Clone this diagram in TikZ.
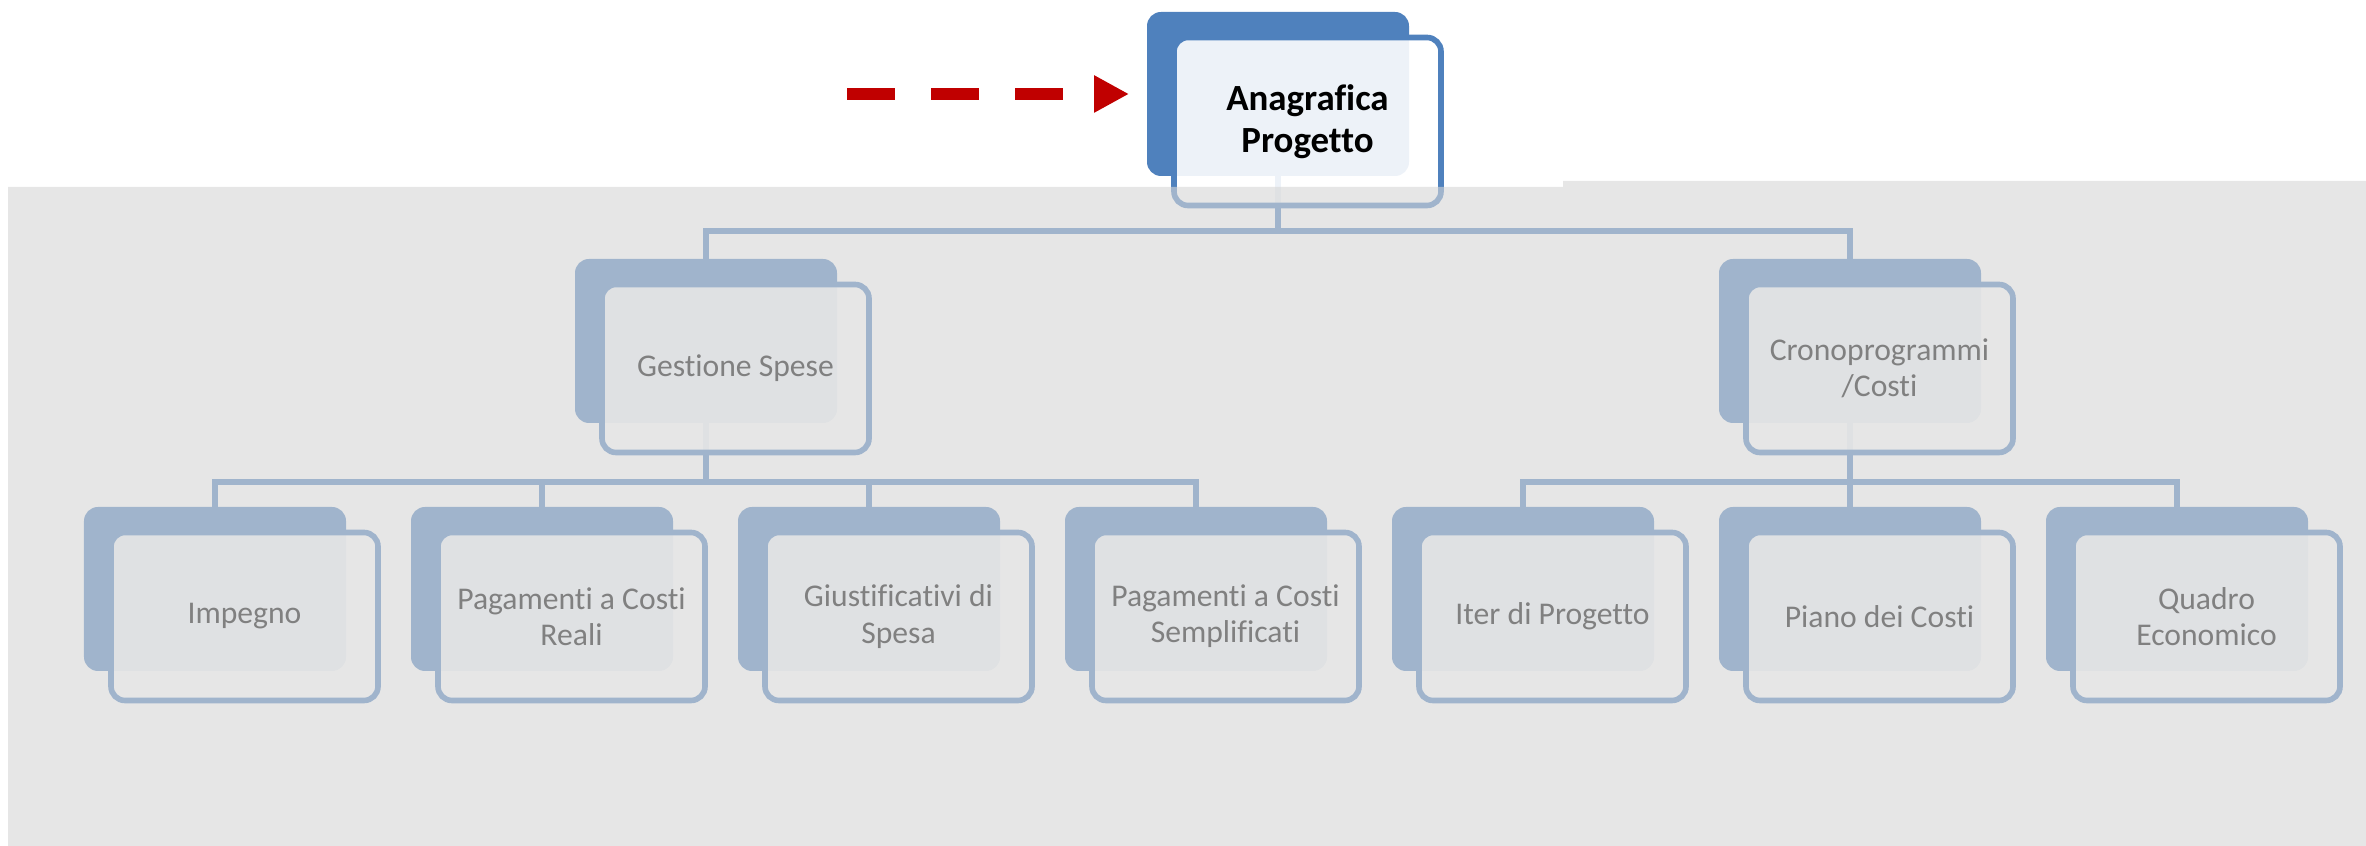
\documentclass[tikz,border=0pt]{standalone}
\usepackage{fontspec}
\setmainfont{Carlito}[Ligatures=NoCommon]
\usetikzlibrary{positioning,arrows.meta,calc}
\definecolor{accentblue}{RGB}{79,129,189}
\definecolor{darkred}{RGB}{192,0,0}
\definecolor{maskgrey}{RGB}{214,214,214}
\pgfdeclarelayer{bg}
\pgfsetlayers{bg,main}

\begin{document}
\begin{tikzpicture}[
    every node/.style={font=\fontsize{9}{10.3}\selectfont},
    back/.style={rectangle, rounded corners=0.14cm, fill=accentblue, minimum width=2.62cm, minimum height=1.64cm, inner sep=0pt, outer sep=0pt},
    front/.style={rectangle, rounded corners=0.14cm, draw=accentblue, line width=1.6pt, fill=white, fill opacity=0.9, text opacity=1, text=black, minimum width=2.67cm, minimum height=1.68cm, inner sep=0pt, align=center},
    conn/.style={draw=accentblue, line width=1.6pt},
    pointer/.style={draw=darkred, line width=0.12cm, dash pattern=on 0.48cm off 0.36cm, -{Triangle[length=0.35cm, width=0.35cm]}, shorten >=0.18cm},
    greyout/.style={fill=maskgrey, fill opacity=0.6}
]
    \useasboundingbox (0,0) rectangle (23.66,8.46);

    % Top
    \node[back] (anag) at (12.78,7.52) {};
    \node[front, font=\fontsize{10.5}{12}\selectfont\bfseries] (anag-f) at ([shift={(0.295,-0.275)}]anag.center) {Anagrafica\\Progetto};

    % Level 1
    \node[back, below=0.83cm of anag, xshift=-5.72cm] (gest) {};
    \node[front] (gest-f) at ([shift={(0.295,-0.275)}]gest.center) {Gestione Spese};
    \node[back, below=0.83cm of anag, xshift=5.72cm] (crono) {};
    \node[front] (crono-f) at ([shift={(0.295,-0.275)}]crono.center) {Cronoprogrammi\\/Costi};

    % Level 2
    \node[back, below=0.84cm of gest, xshift=-4.91cm] (imp) {};
    \node[back, right=0.65cm of imp] (pagreali) {};
    \node[back, right=0.65cm of pagreali] (giust) {};
    \node[back, right=0.65cm of giust] (pagsempl) {};
    \node[back, right=0.65cm of pagsempl] (iter) {};
    \node[back, right=0.65cm of iter] (piano) {};
    \node[back, right=0.65cm of piano] (quadro) {};

    \node[front] (imp-f) at ([shift={(0.295,-0.275)}]imp.center) {Impegno};
    \node[front] (pagreali-f) at ([shift={(0.295,-0.275)}]pagreali.center) {Pagamenti a Costi\\Reali};
    \node[front] (giust-f) at ([shift={(0.295,-0.275)}]giust.center) {Giustificativi di\\Spesa};
    \node[front] (pagsempl-f) at ([shift={(0.295,-0.275)}]pagsempl.center) {Pagamenti a Costi\\Semplificati};
    \node[front] (iter-f) at ([shift={(0.295,-0.275)}]iter.center) {Iter di Progetto};
    \node[front] (piano-f) at ([shift={(0.295,-0.275)}]piano.center) {Piano dei Costi};
    \node[front] (quadro-f) at ([shift={(0.295,-0.275)}]quadro.center) {Quadro\\Economico};

    % Edges
    \begin{pgfonlayer}{bg}
    \draw[conn] (anag.south) -- ++(0,-0.55) -| (gest.north);
    \draw[conn] (anag.south) -- ++(0,-0.55) -| (crono.north);

    \draw[conn] (gest.south) -- ++(0,-0.59) -| (imp.north);
    \draw[conn] (gest.south) -- ++(0,-0.59) -| (pagreali.north);
    \draw[conn] (gest.south) -- ++(0,-0.59) -| (giust.north);
    \draw[conn] (gest.south) -- ++(0,-0.59) -| (pagsempl.north);

    \draw[conn] (crono.south) -- ++(0,-0.59) -| (iter.north);
    \draw[conn] (crono.south) -- ++(0,-0.59) -| (piano.north);
    \draw[conn] (crono.south) -- ++(0,-0.59) -| (quadro.north);
    \end{pgfonlayer}

    % Pointer
    \coordinate[left=3cm of anag.west] (start);
    \draw[pointer] (start) -- (anag.west);

    % Grey mask
    \fill[greyout] (0.08,6.59) -- (15.63,6.59) -- (15.63,6.65) -- (23.66,6.65) -- (23.66,0) -- (0.08,0) -- cycle;
\end{tikzpicture}
\end{document}
